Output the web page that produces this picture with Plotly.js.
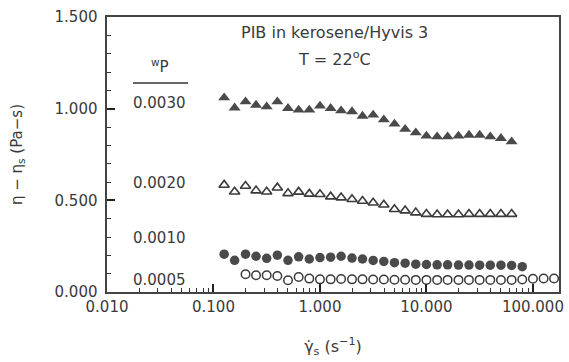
<!DOCTYPE html>
<html>
<head>
<meta charset="utf-8">
<script src="https://cdn.plot.ly/plotly-3.0.1.min.js"></script>
<style>html,body{margin:0;padding:0;background:#fff;}#chart{width:569px;height:362px;}</style>
</head>
<body>
<div id="chart"></div>
<script>
// Shear rate (s^-1)
const xFilledTri = [0.126,0.158,0.2,0.251,0.316,0.398,0.501,0.631,0.794,1,1.26,1.58,2,2.51,3.16,3.98,5.01,6.31,7.94,10,12.6,15.8,20,25.1,31.6,39.8,50.1,63.1];
const yFilledTri = [1.060,1.005,1.038,1.020,1.011,1.038,1.002,0.993,0.993,1.015,1.002,0.989,0.984,0.960,0.966,0.940,0.917,0.888,0.869,0.851,0.847,0.847,0.851,0.856,0.856,0.847,0.838,0.820];

const xOpenTri = [0.126,0.158,0.2,0.251,0.316,0.398,0.501,0.631,0.794,1,1.26,1.58,2,2.51,3.16,3.98,5.01,6.31,7.94,10,12.6,15.8,20,25.1,31.6,39.8,50.1,63.1];
const yOpenTri = [0.584,0.547,0.578,0.553,0.547,0.569,0.538,0.546,0.535,0.533,0.520,0.515,0.506,0.496,0.487,0.476,0.451,0.444,0.433,0.425,0.423,0.423,0.423,0.425,0.425,0.425,0.425,0.425];

const xFilledCirc = [0.126,0.158,0.2,0.251,0.316,0.398,0.501,0.631,0.794,1,1.26,1.58,2,2.51,3.16,3.98,5.01,6.31,7.94,10,12.6,15.8,20,25.1,31.6,39.8,50.1,63.1,79.4];
const yFilledCirc = [0.206,0.173,0.206,0.195,0.184,0.201,0.173,0.192,0.180,0.188,0.190,0.195,0.185,0.180,0.172,0.167,0.160,0.157,0.152,0.150,0.148,0.148,0.147,0.147,0.146,0.146,0.146,0.145,0.138];

const xOpenCirc = [0.2,0.251,0.316,0.398,0.501,0.631,0.794,1,1.26,1.58,2,2.51,3.16,3.98,5.01,6.31,7.94,10,12.6,15.8,20,25.1,31.6,39.8,50.1,63.1,79.4,100,126,158];
const yOpenCirc = [0.097,0.091,0.091,0.087,0.064,0.082,0.073,0.069,0.069,0.071,0.069,0.069,0.068,0.068,0.067,0.067,0.066,0.066,0.066,0.066,0.066,0.066,0.066,0.066,0.065,0.066,0.068,0.072,0.074,0.074];

const seriesLabels = ["0.0030","0.0020","0.0010","0.0005"];
const seriesLabelY = [1.03,0.595,0.295,0.065];

const FONT = "DejaVu Sans, sans-serif";
const INK = "#3a3a3a";

const traces = [
  {x:xFilledTri, y:yFilledTri, name:"0.0030", type:"scatter", mode:"markers",
   marker:{symbol:"triangle-up", size:10.5, color:"#4a4a4a"}},
  {x:xOpenTri, y:yOpenTri, name:"0.0020", type:"scatter", mode:"markers",
   marker:{symbol:"triangle-up-open", size:9, color:"#3a3a3a", line:{width:1.6}}},
  {x:xFilledCirc, y:yFilledCirc, name:"0.0010", type:"scatter", mode:"markers",
   marker:{symbol:"circle", size:9.5, color:"#4a4a4a"}},
  {x:xOpenCirc, y:yOpenCirc, name:"0.0005", type:"scatter", mode:"markers",
   marker:{symbol:"circle-open", size:8.5, color:"#3a3a3a", line:{width:1.5}}}
];

const annotations = seriesLabels.map((t,i)=>({
  text:t, xref:"paper", yref:"y", x:0.117, y:seriesLabelY[i],
  showarrow:false, xanchor:"center", yanchor:"middle",
  font:{family:FONT, size:15, color:INK}
}));
annotations.push({text:"<sup>w</sup>P", xref:"paper", yref:"paper",
  x:0.117, y:(292-66)/275, showarrow:false, xanchor:"center", yanchor:"middle",
  font:{family:FONT, size:15, color:INK}});
annotations.push({text:"PIB in kerosene/Hyvis 3", xref:"paper", yref:"paper",
  x:(334-107)/452, y:(292-32)/275, showarrow:false, xanchor:"center", yanchor:"middle",
  font:{family:FONT, size:16, color:INK}});
annotations.push({text:"T = 22<sup>o</sup>C", xref:"paper", yref:"paper",
  x:(334-107)/452, y:(292-59)/275, showarrow:false, xanchor:"center", yanchor:"middle",
  font:{family:FONT, size:16, color:INK}});

const layout = {
  width:569, height:362,
  margin:{l:107, r:10, t:17, b:70},
  showlegend:false,
  font:{family:FONT, size:15, color:INK},
  xaxis:{
    type:"log", range:[-2, 2.245],
    dtick:1, tickformat:".3f",
    ticks:"inside", ticklen:8, tickwidth:1.6, tickcolor:"#222",
    showgrid:false, zeroline:false,
    showline:true, mirror:true, linecolor:"#444", linewidth:1.5,
    tickfont:{family:FONT, size:15, color:INK},
    minor:{ticks:"inside", ticklen:4, tickwidth:1.3, tickcolor:"#333"},
    title:{text:"γ̇<sub>s</sub> (s<sup>−1</sup>)", font:{family:FONT, size:16, color:INK}, standoff:26}
  },
  yaxis:{
    range:[0,1.5],
    dtick:0.5, tickformat:".3f", ticksuffix:"\u00a0",
    ticks:"inside", ticklen:8, tickwidth:1.6, tickcolor:"#222",
    showgrid:false, zeroline:false,
    showline:true, mirror:true, linecolor:"#444", linewidth:1.5,
    tickfont:{family:FONT, size:15, color:INK},
    minor:{ticks:"inside", ticklen:4, tickwidth:1.3, tickcolor:"#333"},
    title:{text:"η − η<sub>s</sub> (Pa−s)", font:{family:FONT, size:15, color:INK}, standoff:28}
  },
  shapes:[{type:"line", xref:"paper", yref:"paper",
    x0:(133-107)/452, x1:(188-107)/452, y0:(292-83)/275, y1:(292-83)/275,
    line:{color:"#333", width:1.3}}],
  annotations:annotations
};

Plotly.newPlot("chart", traces, layout, {displayModeBar:false});
</script>
</body>
</html>
